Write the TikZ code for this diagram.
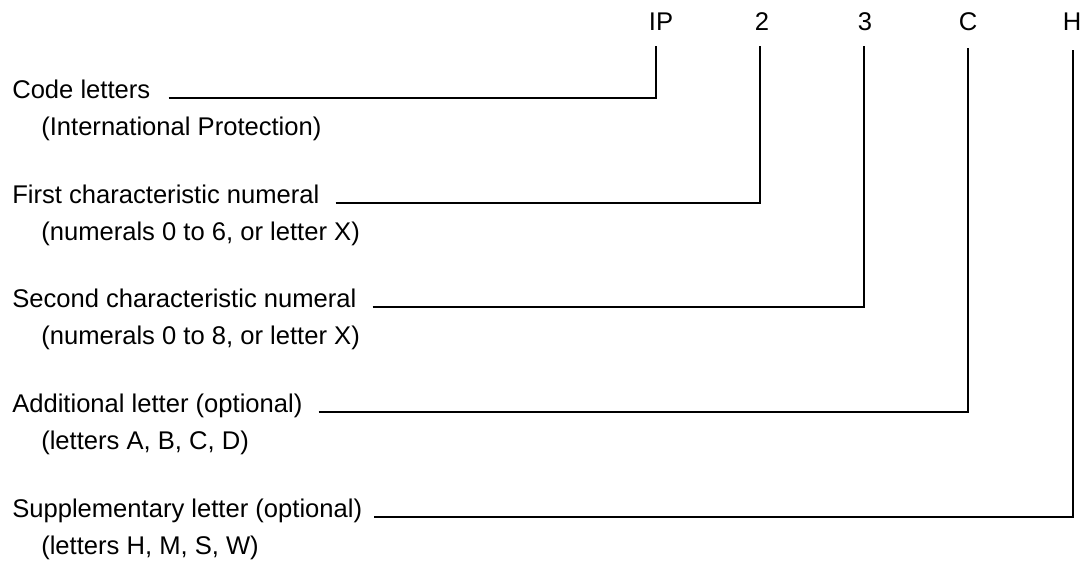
\documentclass[tikz,border=0pt]{standalone}
\usepackage{fontspec}
\setmainfont{Liberation Sans}
\usepackage{tikz}

\newcommand{\codefont}{\fontsize{18.2pt}{21pt}\selectfont}

\begin{document}
\begin{tikzpicture}[
    head/.style={anchor=base west, inner sep=0pt, font=\codefont},
    sub/.style={anchor=base west, inner sep=0pt, font=\codefont},
    digit/.style={anchor=base, inner sep=0pt, font=\codefont},
    lead/.style={line width=1.3pt}]
    \useasboundingbox (0, 0) rectangle (27.025, -14);

    % nodes: code letters along the top
    \node[digit] (ip) at (16.525, -0.75) {IP};
    \node[digit] (two) at (19.05, -0.75) {2};
    \node[digit] (three) at (21.625, -0.75) {3};
    \node[digit] (c) at (24.2, -0.75) {C};
    \node[digit] (h) at (26.8, -0.75) {H};

    % nodes: headings and their notes
    \node[head] (code) at (0.3, -2.45) {Code letters};
    \node[sub] (codenote) at (1.025, -3.375) {(International Protection)};
    \node[head] (first) at (0.3, -5.075) {First characteristic numeral};
    \node[sub] (firstnote) at (1.025, -6.0) {(numerals 0 to 6, or letter X)};
    \node[head] (second) at (0.3, -7.675) {Second characteristic numeral};
    \node[sub] (secondnote) at (1.025, -8.6) {(numerals 0 to 8, or letter X)};
    \node[head] (add) at (0.3, -10.3) {Additional letter (optional)};
    \node[sub] (addnote) at (1.025, -11.225) {(letters A, B, C, D)};
    \node[head] (supp) at (0.3, -12.925) {Supplementary letter (optional)};
    \node[sub] (suppnote) at (1.025, -13.85) {(letters H, M, S, W)};

    % edges: heading to letter
    \draw[lead] ([xshift=0.45cm]code.base east) -| ([xshift=-0.125cm, yshift=-0.4cm]ip.base);
    \draw[lead] ([xshift=0.4cm]first.base east) -| ([xshift=-0.05cm, yshift=-0.4cm]two.base);
    \draw[lead] ([xshift=0.4cm]second.base east) -| ([xshift=-0.025cm, yshift=-0.4cm]three.base);
    \draw[lead] ([xshift=0.4cm]add.base east) -| ([yshift=-0.45cm]c.base);
    \draw[lead] ([xshift=0.3cm]supp.base east) -| ([xshift=0.025cm, yshift=-0.5cm]h.base);
\end{tikzpicture}
\end{document}
